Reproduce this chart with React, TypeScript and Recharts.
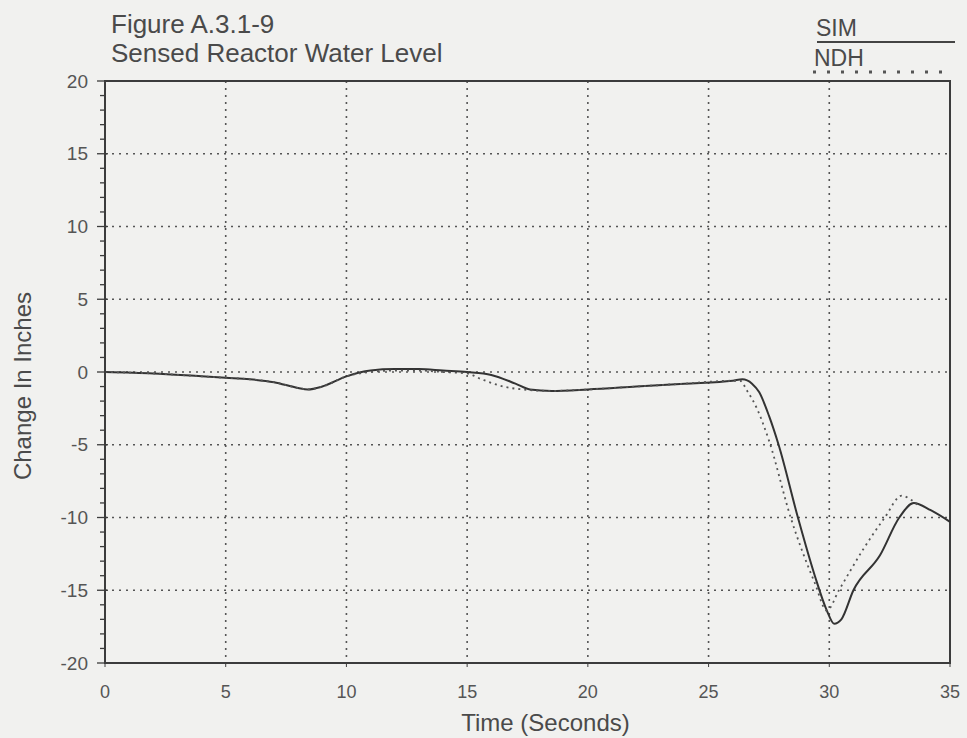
import React from "react";
import { LineChart, Line, XAxis, YAxis, CartesianGrid, ReferenceArea } from "recharts";

// SIM (solid) and NDH (dotted) traces
const simTime = [0, 2, 4, 5, 6, 7, 8, 8.4, 9, 10, 11, 12, 13, 14, 15, 16, 17, 17.6, 18.5, 20, 22, 24, 26, 26.4, 26.8, 27.1, 27.5, 27.9, 28.7, 29.4, 29.9, 30.2, 30.5, 31, 32.1, 32.9, 33.5, 34.2, 35];
const simLevel = [0, -0.1, -0.3, -0.4, -0.5, -0.7, -1.1, -1.2, -1.0, -0.3, 0.1, 0.2, 0.2, 0.1, 0, -0.2, -0.8, -1.2, -1.3, -1.2, -1.0, -0.8, -0.6, -0.5, -0.8, -1.4, -3.0, -5.0, -10, -14, -16.4, -17.3, -17.0, -15.0, -12.6, -10.0, -9.0, -9.5, -10.3];

const ndhTime = [0, 2, 4, 5, 6, 7, 8, 8.4, 9, 10, 11, 12, 13, 14, 15, 15.6, 16.5, 17.3, 18.5, 20, 22, 24, 26, 26.3, 26.6, 27, 27.5, 28.4, 29.4, 29.9, 30.4, 31.4, 32.3, 33, 33.4, 33.7];
const ndhLevel = [0, -0.1, -0.3, -0.4, -0.5, -0.7, -1.1, -1.2, -1.0, -0.3, 0, 0.1, 0.1, 0, -0.1, -0.5, -1.0, -1.2, -1.3, -1.2, -1.0, -0.8, -0.6, -0.6, -1.3, -2.5, -4.7, -10, -14.5, -16.4, -15.0, -12.2, -10.0, -8.5, -8.8, -9.2];

const xTicks = [0, 5, 10, 15, 20, 25, 30, 35];
const yMajor = [-20, -15, -10, -5, 0, 5, 10, 15, 20];
const yMinor = Array.from({ length: 41 }, (_, i) => i - 20);

const simData = simTime.map((t, i) => ({ t, v: simLevel[i] }));
const ndhData = ndhTime.map((t, i) => ({ t, v: ndhLevel[i] }));

const ink = "#3c3c3c";
const textCol = "#4a4a4a";
const font = "'Liberation Sans', Arial, Helvetica, sans-serif";

const YTick = (props: any) => {
  const { x, y, payload } = props;
  const major = payload.value % 5 === 0;
  return (
    <g>
      <line x1={major ? x - 8 : x - 5} x2={x + (major ? 3 : 0)} y1={y} y2={y} stroke={ink} strokeWidth={1.3} />
      {major && (
        <text x={x - 17} y={y} dy={6.5} textAnchor="end" fill="#555" fontSize={19} fontFamily={font}>
          {payload.value}
        </text>
      )}
    </g>
  );
};

const YLabel = (props: any) => {
  const { viewBox } = props;
  const cy = viewBox.y + viewBox.height / 2 + 14;
  return (
    <text x={31} y={cy} transform={`rotate(-90, 31, ${cy})`} textAnchor="middle" fill={textCol} fontSize={24} fontFamily={font}>
      Change In Inches
    </text>
  );
};

const XLabel = (props: any) => {
  const { viewBox } = props;
  const cx = viewBox.x + viewBox.width / 2 + 18;
  return (
    <text x={cx} y={731} textAnchor="middle" fill={textCol} fontSize={24} fontFamily={font}>
      Time (Seconds)
    </text>
  );
};

export default function App() {
  return (
    <div style={{ position: "fixed", left: 0, top: 0, width: 967, height: 738, background: "#f1f1ef", fontFamily: font }}>
      <div style={{ position: "absolute", left: 111, top: 10, fontSize: 26, color: textCol, lineHeight: "29px", whiteSpace: "nowrap" }}>
        Figure A.3.1-9
        <br />
        Sensed Reactor Water Level
      </div>
      <div style={{ position: "absolute", left: 816, top: 15, fontSize: 23, color: textCol }}>SIM</div>
      <div style={{ position: "absolute", left: 814, top: 45, fontSize: 23, color: textCol }}>NDH</div>
      <svg style={{ position: "absolute", left: 0, top: 0 }} width={967} height={90}>
        <line x1={817} x2={955} y1={42} y2={42} stroke="#444" strokeWidth={2} />
        <line x1={813} x2={952} y1={72} y2={72} stroke="#555" strokeWidth={3} strokeDasharray="3 11" />
      </svg>
      <LineChart width={967} height={738} margin={{ top: 81, right: 17, bottom: 0, left: 0 }}>
        <CartesianGrid
          stroke="#555"
          strokeWidth={1.6}
          strokeDasharray="2 5"
          horizontalValues={yMajor}
          verticalValues={xTicks}
        />
        <XAxis
          dataKey="t"
          type="number"
          domain={[0, 35]}
          ticks={xTicks}
          interval={0}
          height={75}
          allowDuplicatedCategory={false}
          axisLine={{ stroke: ink, strokeWidth: 2 }}
          tickLine={{ stroke: ink }}
          tickSize={4}
          tickMargin={18}
          tick={{ fill: "#555", fontSize: 18, fontFamily: font }}
          label={<XLabel />}
        />
        <YAxis
          type="number"
          domain={[-20, 20]}
          ticks={yMinor}
          interval={0}
          width={105}
          axisLine={{ stroke: ink, strokeWidth: 2 }}
          tickLine={false}
          tickSize={0}
          tickMargin={0}
          tick={<YTick />}
          label={<YLabel />}
        />
        <ReferenceArea x1={0} x2={35} y1={-20} y2={20} fill="none" stroke={ink} strokeWidth={2} />
        <Line
          data={simData}
          dataKey="v"
          type="monotone"
          stroke="#333"
          strokeWidth={2}
          dot={false}
          isAnimationActive={false}
        />
        <Line
          data={ndhData}
          dataKey="v"
          type="monotone"
          stroke="#555"
          strokeWidth={1.8}
          strokeDasharray="2 4"
          dot={false}
          isAnimationActive={false}
        />
      </LineChart>
    </div>
  );
}
